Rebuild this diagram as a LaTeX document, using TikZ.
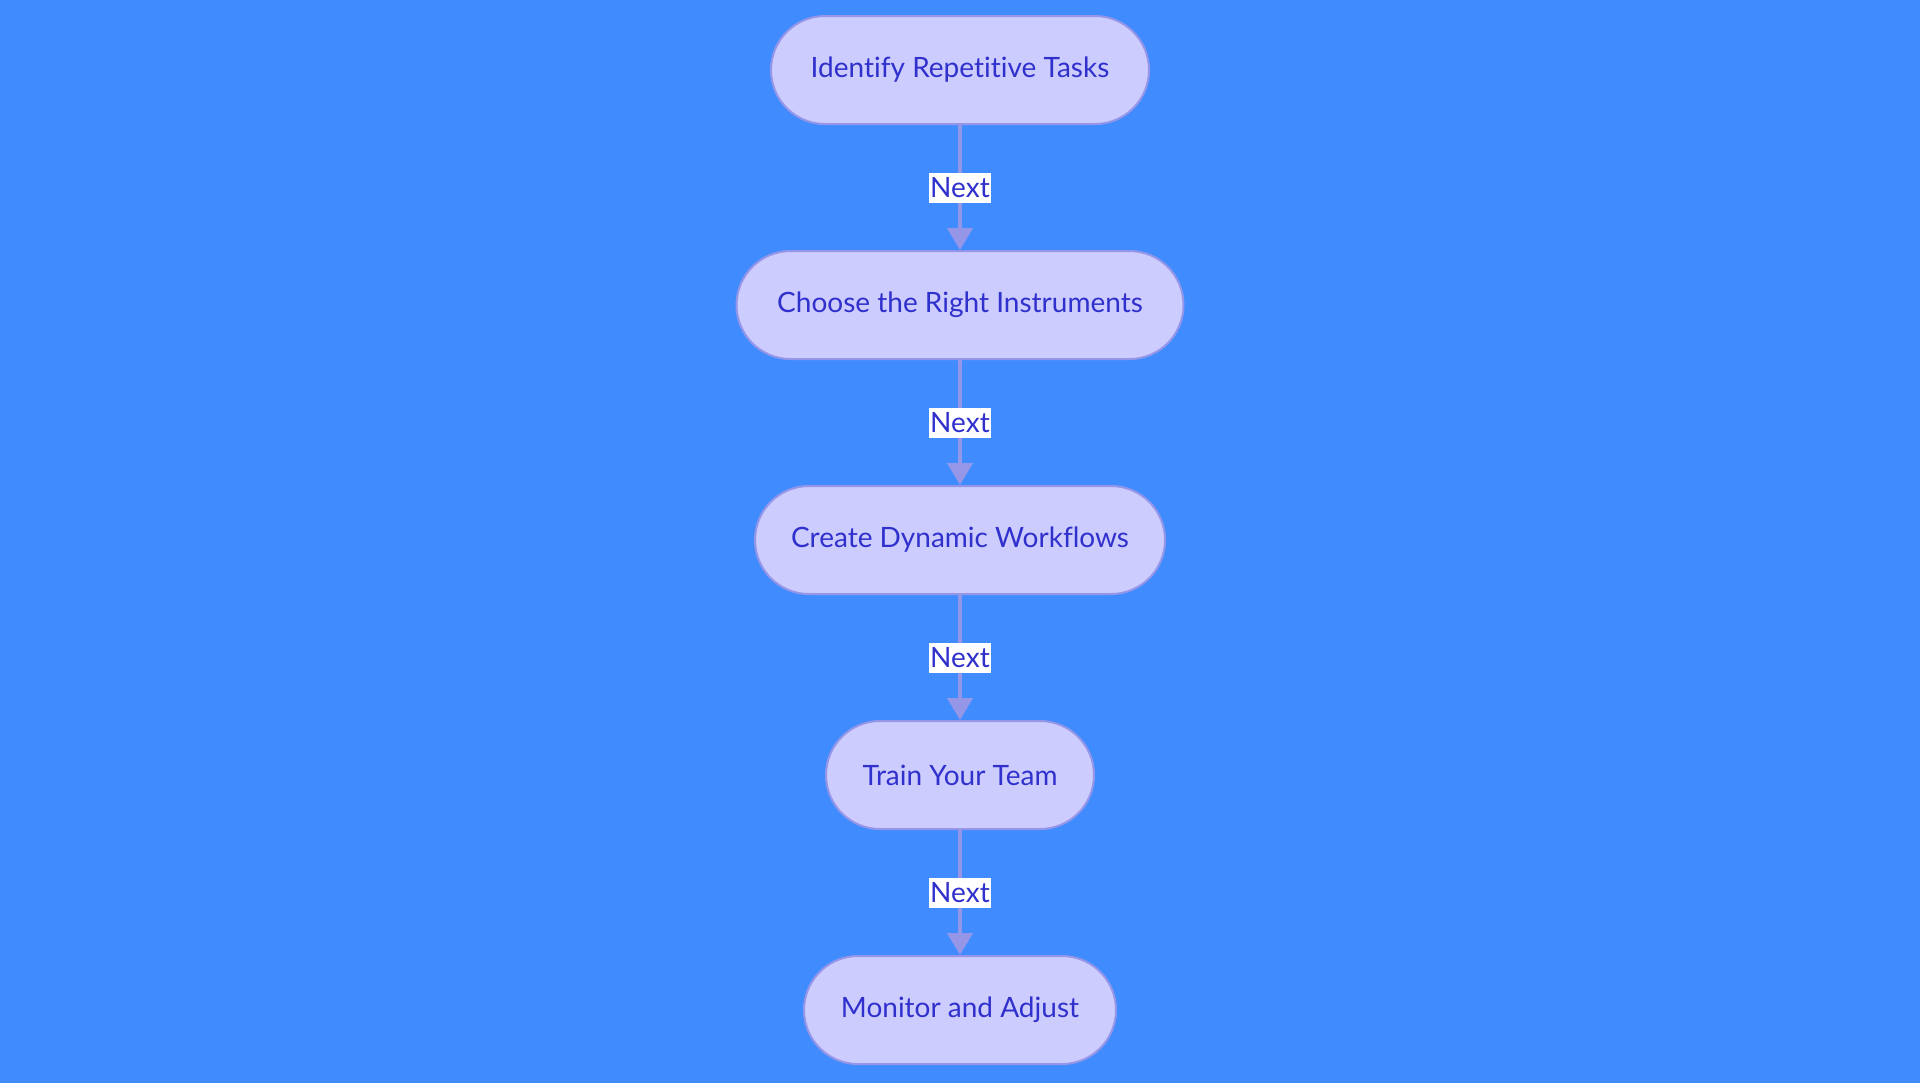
\documentclass[tikz,border=0pt]{standalone}
\usepackage{fontspec}
\setmainfont{Lato}[Ligatures=NoCommon]
\usetikzlibrary{arrows.meta}

\newlength{\du}
\setlength{\du}{0.75pt}

\definecolor{bgcolor}{RGB}{64,140,255}
\definecolor{boxfill}{RGB}{204,204,255}
\definecolor{boxline}{RGB}{150,150,232}
\definecolor{textcolor}{RGB}{48,48,204}

\tikzset{
  stepbox/.style={draw=boxline, fill=boxfill, line width=2\du,
    rounded corners=54\du, minimum height=108\du, inner sep=0pt,
    text=textcolor, font=\fontsize{21}{25}\selectfont},
  nextline/.style={draw=boxline, line width=4\du,
    -{Triangle[width=18.75pt,length=16.5pt]}},
  nextlabel/.style={fill=white, text=textcolor, inner sep=1\du,
    minimum width=60\du, minimum height=30\du,
    font=\fontsize{21}{25}\selectfont}
}

\begin{document}
\begin{tikzpicture}[yscale=-1]
% background
\fill[bgcolor] (0\du,0\du) rectangle (1920\du,1083\du);
\useasboundingbox (0\du,0\du) rectangle (1920\du,1083\du);
% steps
\node[stepbox, minimum width=378\du] (identify) at (960\du,70\du) {Identify Repetitive Tasks};
\node[stepbox, minimum width=447\du] (choose) at (960\du,305\du) {Choose the Right Instruments};
\node[stepbox, minimum width=410\du] (create) at (960\du,540\du) {Create Dynamic Workflows};
\node[stepbox, minimum width=268\du] (train) at (960\du,775\du) {Train Your Team};
\node[stepbox, minimum width=312\du] (monitor) at (960\du,1010\du) {Monitor and Adjust};
% connectors
\draw[nextline] (identify) -- node[nextlabel] {Next} (choose);
\draw[nextline] (choose) -- node[nextlabel] {Next} (create);
\draw[nextline] (create) -- node[nextlabel] {Next} (train);
\draw[nextline] (train) -- node[nextlabel] {Next} (monitor);
\end{tikzpicture}
\end{document}
